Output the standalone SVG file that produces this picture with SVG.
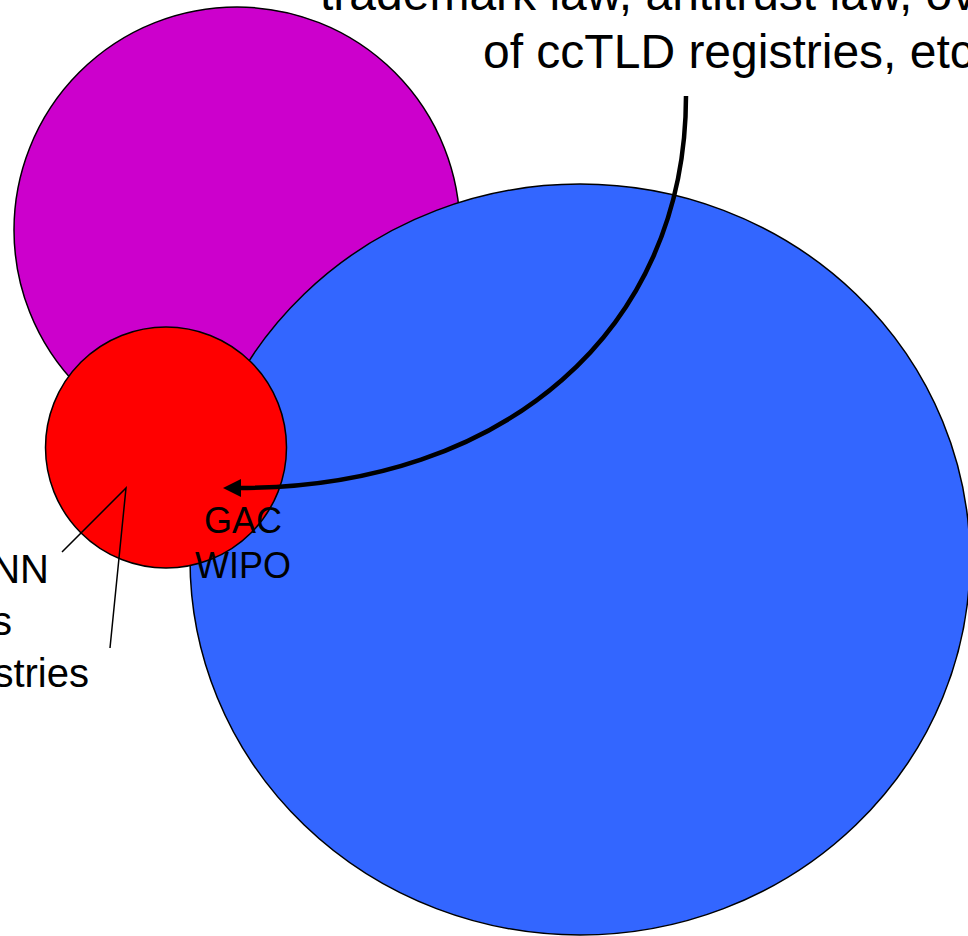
<svg xmlns="http://www.w3.org/2000/svg" width="968" height="936" viewBox="0 0 968 936">
<style>
.shape{stroke:#000;stroke-width:1.5}
.lbl{font-family:"Liberation Sans",Arial,sans-serif;fill:#000}
.leader{stroke:#000;stroke-width:1.5;fill:none}
.arrow{stroke:#000;stroke-width:4.5;fill:none}
</style>
<defs>
<marker id="ah" markerUnits="userSpaceOnUse" markerWidth="19" markerHeight="19" viewBox="0 0 19 19" refX="2" refY="9.5" orient="auto">
<path d="M0,0.5 L18,9.5 L0,18.5 z" fill="#000"/>
</marker>
</defs>
<rect width="968" height="936" fill="#fff"/>
<g id="magenta-circle">
<circle class="shape" cx="237" cy="230" r="223" fill="#CC00CC"/>
</g>
<g id="blue-circle">
<ellipse class="shape" cx="580" cy="559.5" rx="390" ry="375.5" fill="#3366FF"/>
</g>
<g id="red-circle">
<circle class="shape" cx="166" cy="447.5" r="120.5" fill="#FF0000"/>
</g>
<g id="top-label">
<text class="lbl" font-size="48" x="320" y="10">trademark law, antitrust law, ov</text>
<text class="lbl" font-size="48" x="483" y="68">of ccTLD registries, etc</text>
</g>
<g id="left-label">
<text class="lbl" font-size="40" text-anchor="end" x="49" y="583">NN</text>
<text class="lbl" font-size="40" text-anchor="end" x="12" y="635">s</text>
<text class="lbl" font-size="40" text-anchor="end" x="89" y="687">stries</text>
</g>
<g id="gac-label">
<text class="lbl" font-size="36" text-anchor="middle" x="243" y="533">GAC</text>
<text class="lbl" font-size="36" text-anchor="middle" x="243" y="578">WIPO</text>
</g>
<g id="connectors">
<path class="arrow" d="M686,96 C686,330 505,488 239,488" marker-end="url(#ah)"/>
<polyline class="leader" points="62,552 126,488 110,648"/>
</g>
</svg>
